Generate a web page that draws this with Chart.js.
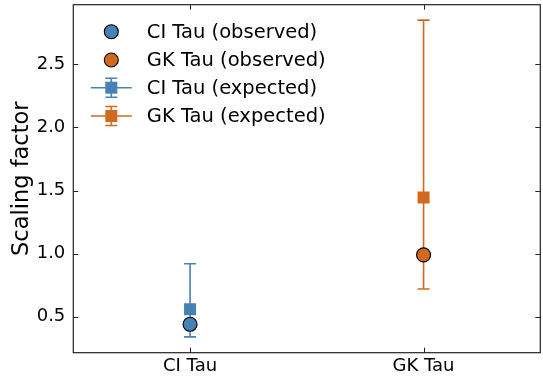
<!DOCTYPE html>
<html>
<head>
<meta charset="utf-8">
<script src="https://cdn.jsdelivr.net/npm/chart.js@4.4.1/dist/chart.umd.min.js"></script>
<style>
  html, body { margin:0; padding:0; background:#fff; }
  #wrap { width:543px; height:380px; }
</style>
</head>
<body>
<div id="wrap"><canvas id="chart" width="543" height="380"></canvas></div>
<script>
// data
const categories   = ['CI Tau', 'GK Tau'];
const observed     = [0.44, 0.99];
const expected     = [0.56, 1.445];
const expectedLow  = [0.34, 0.72];
const expectedHigh = [0.92, 2.85];
const yTicks       = [0.5, 1.0, 1.5, 2.0, 2.5];
const colors       = ['#4682B4', '#D2691E'];

const FONT = "'DejaVu Sans', sans-serif";
const legendLabels = [
  ...categories.map(c => `${c} (observed)`),
  ...categories.map(c => `${c} (expected)`)
];

function drawErrSymbol(ctx, x, y, color, half, capHalf) {
  ctx.strokeStyle = color;
  ctx.lineWidth = 1.6;
  ctx.beginPath();
  ctx.moveTo(x, y - half); ctx.lineTo(x, y + half);
  ctx.moveTo(x - capHalf, y - half); ctx.lineTo(x + capHalf, y - half);
  ctx.moveTo(x - capHalf, y + half); ctx.lineTo(x + capHalf, y + half);
  ctx.stroke();
}

const extras = {
  id: 'extras',
  beforeDatasetsDraw(chart) {
    const { ctx, scales: { x, y } } = chart;
    ctx.save();
    categories.forEach((c, i) => {
      const px = x.getPixelForValue(i);
      const lo = y.getPixelForValue(expectedLow[i]);
      const hi = y.getPixelForValue(expectedHigh[i]);
      ctx.strokeStyle = colors[i];
      ctx.lineWidth = 1.6;
      ctx.beginPath();
      ctx.moveTo(px, lo); ctx.lineTo(px, hi);
      ctx.moveTo(px - 6, lo); ctx.lineTo(px + 6, lo);
      ctx.moveTo(px - 6, hi); ctx.lineTo(px + 6, hi);
      ctx.stroke();
    });
    ctx.restore();
  },
  afterDraw(chart) {
    const { ctx, chartArea: a, scales: { x, y } } = chart;
    ctx.save();
    // frame
    ctx.strokeStyle = '#222';
    ctx.lineWidth = 1.2;
    ctx.strokeRect(a.left, a.top, a.right - a.left, a.bottom - a.top);
    // inward ticks on all sides
    ctx.beginPath();
    yTicks.forEach(v => {
      const py = Math.round(y.getPixelForValue(v)) + 0.5;
      ctx.moveTo(a.left, py); ctx.lineTo(a.left + 5, py);
      ctx.moveTo(a.right, py); ctx.lineTo(a.right - 5, py);
    });
    categories.forEach((c, i) => {
      const px = Math.round(x.getPixelForValue(i)) + 0.5;
      ctx.moveTo(px, a.bottom); ctx.lineTo(px, a.bottom - 5);
      ctx.moveTo(px, a.top); ctx.lineTo(px, a.top + 5);
    });
    ctx.lineWidth = 1;
    ctx.stroke();

    // legend
    const symX = a.left + 38;
    const textX = a.left + 73.5;
    const rows = [27, 55.3, 83, 111.3];
    ctx.font = `19.5px ${FONT}`;
    ctx.textBaseline = 'middle';
    ctx.fillStyle = '#000';
    legendLabels.forEach((lab, k) => {
      const ry = a.top + rows[k];
      const ci = k % 2;
      if (k < 2) {
        ctx.beginPath();
        ctx.arc(symX, ry, 7, 0, Math.PI * 2);
        ctx.fillStyle = colors[ci];
        ctx.fill();
        ctx.strokeStyle = '#000';
        ctx.lineWidth = 1.1;
        ctx.stroke();
      } else {
        ctx.strokeStyle = colors[ci];
        ctx.lineWidth = 1.6;
        ctx.beginPath();
        ctx.moveTo(symX - 20.5, ry); ctx.lineTo(symX + 20.5, ry);
        ctx.stroke();
        drawErrSymbol(ctx, symX, ry, colors[ci], 9.5, 6);
        ctx.fillStyle = colors[ci];
        ctx.fillRect(symX - 6, ry - 6, 12, 12);
      }
      ctx.fillStyle = '#000';
      ctx.fillText(lab, textX, ry + 1);
    });
    ctx.restore();
  }
};

const datasets = [
  ...categories.map((c, i) => ({
    label: `${c} (observed)`,
    data: [{ x: i, y: observed[i] }],
    pointStyle: 'circle',
    pointRadius: 7,
    backgroundColor: colors[i],
    borderColor: '#000',
    borderWidth: 1.1
  })),
  ...categories.map((c, i) => ({
    label: `${c} (expected)`,
    data: [{ x: i, y: expected[i] }],
    pointStyle: 'rect',
    pointRadius: 8.5,
    backgroundColor: colors[i],
    borderColor: colors[i],
    borderWidth: 0
  }))
];

new Chart(document.getElementById('chart'), {
  type: 'scatter',
  data: { datasets },
  options: {
    responsive: false,
    animation: false,
    devicePixelRatio: 1,
    layout: { autoPadding: false, padding: { top: 4.7, right: 2.7, left: 0, bottom: 0 } },
    plugins: { legend: { display: false }, tooltip: { enabled: false } },
    scales: {
      x: {
        type: 'linear', min: -0.5, max: 1.5,
        afterBuildTicks: s => { s.ticks = categories.map((c, i) => ({ value: i })); },
        afterFit: s => { s.height = 27.3; s.paddingLeft = 0; s.paddingRight = 0; },
        grid: { display: false, drawTicks: false },
        border: { display: false },
        ticks: { color: '#000', padding: 3, maxRotation: 0, font: { family: FONT, size: 18 },
                 callback: v => categories[v] }
      },
      y: {
        type: 'linear', min: 0.215, max: 2.972,
        afterBuildTicks: s => { s.ticks = yTicks.map(v => ({ value: v })); },
        afterFit: s => { s.width = 73.3; s.paddingTop = 0; s.paddingBottom = 0; },
        grid: { display: false, drawTicks: false },
        border: { display: false },
        ticks: { color: '#000', padding: 8, font: { family: FONT, size: 18 },
                 callback: v => v.toFixed(1) },
        title: { display: true, text: 'Scaling factor', color: '#000',
                 font: { family: FONT, size: 22.5 }, padding: { top: 9, bottom: 0 } }
      }
    }
  },
  plugins: [extras]
});
</script>
</body>
</html>
